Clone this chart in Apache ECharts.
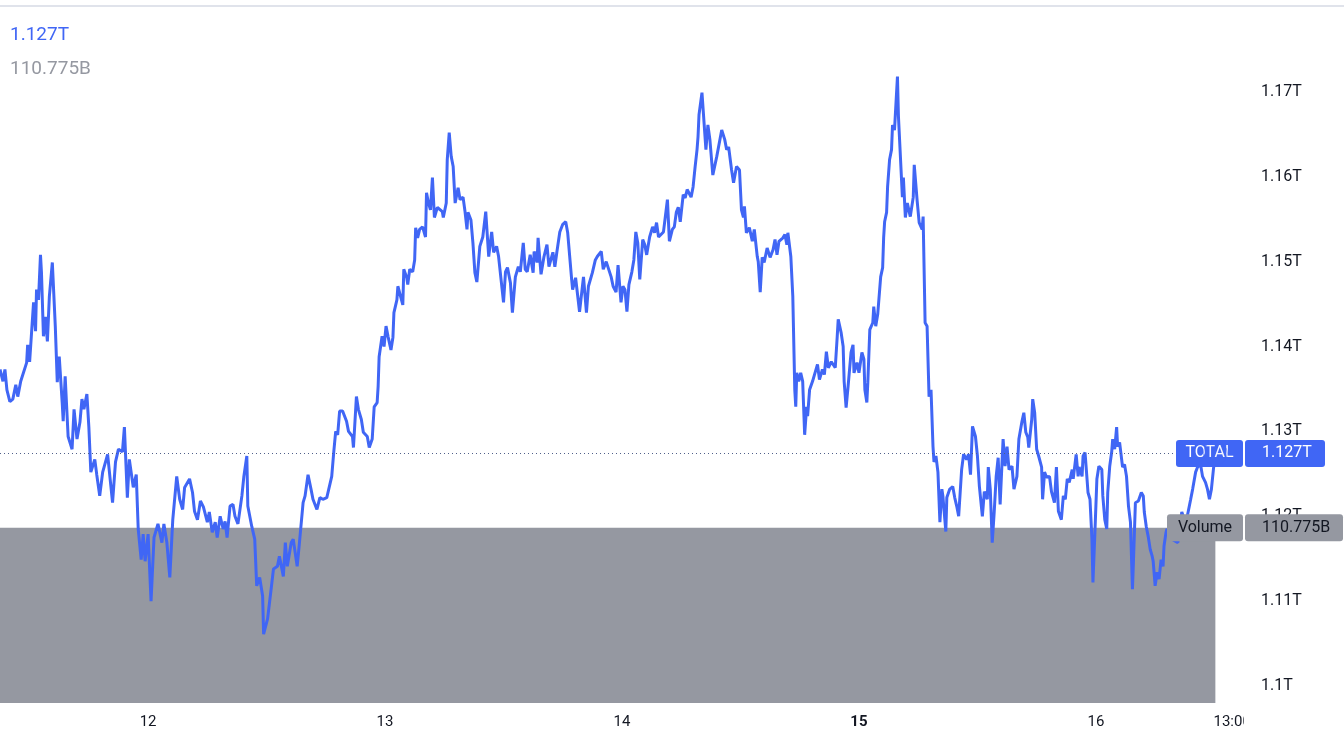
<!DOCTYPE html>
<html><head><meta charset="utf-8">
<script src="https://cdn.jsdelivr.net/npm/echarts@6/dist/echarts.min.js"></script>
<style>html,body{margin:0;padding:0;background:#fff;overflow:hidden}#c{width:1344px;height:739px}</style>
</head><body><div id="c"></div>
<script>
// Time in hours from day 12 00:00; values in billions (TOTAL market cap)
const times = [-15.0,-14.7,-14.5,-14.3,-14.0,-13.7,-13.4,-13.2,-12.9,-12.7,-12.3,-12.2,-12.0,-11.6,-11.4,-11.3,-11.1,-10.9,-10.8,-10.6,-10.4,-10.2,-10.0,-9.7,-9.4,-9.2,-9.0,-8.7,-8.6,-8.4,-8.1,-7.7,-7.5,-7.2,-6.9,-6.7,-6.5,-6.2,-6.0,-5.8,-5.4,-5.2,-4.9,-4.6,-4.1,-3.6,-3.3,-3.0,-2.6,-2.4,-2.1,-1.9,-1.5,-1.2,-1.0,-0.7,-0.5,-0.3,0.0,0.3,0.6,1.0,1.4,1.6,1.9,2.2,2.5,2.9,3.2,3.5,3.7,4.2,4.5,4.7,5.0,5.3,5.6,6.0,6.2,6.5,6.8,7.0,7.3,7.6,7.8,8.0,8.3,8.6,8.8,9.1,9.5,9.7,10.0,10.1,
10.5,10.8,11.0,11.3,11.6,11.7,12.1,12.5,12.7,13.1,13.3,13.7,13.9,14.1,14.5,14.7,15.1,15.3,15.7,15.9,16.2,16.5,16.7,17.1,17.4,17.7,18.1,18.3,18.6,18.8,19.0,19.2,19.4,19.7,20.1,20.3,20.7,20.8,21.1,21.3,21.6,21.8,22.2,22.4,22.7,22.9,23.2,23.3,23.4,23.7,23.9,24.1,24.3,24.6,24.8,24.9,25.2,25.3,25.5,25.8,25.9,26.2,26.3,26.5,26.8,27.0,27.1,27.3,27.5,27.8,28.1,28.2,28.4,28.6,28.8,29.0,29.3,29.5,29.8,29.9,30.2,30.3,30.5,30.7,30.9,31.1,31.4,31.6,31.9,32.1,32.3,32.4,32.7,32.9,33.1,33.3,33.6,33.9,34.2,
34.3,34.5,34.8,35.0,35.3,35.5,36.0,36.2,36.4,36.7,36.9,37.2,37.5,37.7,38.0,38.2,38.4,38.7,39.0,39.1,39.4,39.5,39.8,40.1,40.4,40.6,41.0,41.2,41.4,41.7,42.0,42.3,42.5,42.9,43.0,43.3,43.5,43.7,44.1,44.4,44.6,45.0,45.3,45.5,45.9,46.1,46.4,46.6,46.9,47.1,47.4,47.6,47.9,48.1,48.3,48.5,48.7,49.0,49.2,49.4,49.6,49.8,50.1,50.3,50.5,50.8,51.1,51.3,51.5,51.7,52.2,52.4,52.6,52.8,53.1,53.3,53.5,53.7,53.9,54.2,54.4,54.6,55.0,55.2,55.4,55.6,55.7,55.8,56.1,56.3,56.5,56.7,56.9,57.2,57.6,57.8,58.1,58.4,58.6,
58.8,59.1,59.3,59.6,59.9,60.1,60.3,60.4,60.6,60.9,61.2,61.4,61.7,61.8,62.0,62.2,62.4,62.7,63.0,63.3,63.5,63.7,63.9,64.3,64.5,64.7,64.8,65.1,65.3,65.5,65.6,65.7,65.9,66.1,66.3,66.5,66.7,66.8,67.0,67.3,67.8,68.0,68.3,68.5,68.7,68.9,69.2,69.4,69.6,69.8,69.9,70.2,70.4,70.5,70.7,70.9,71.2,71.4,71.5,71.8,72.0,72.3,72.5,72.6,72.8,72.9,73.1,73.4,73.5,73.7,73.9,74.2,74.4,74.5,74.6,74.8,74.9,75.1,75.3,75.4,75.6,75.9,76.0,76.2,76.4,76.5,76.7,76.9,77.2,77.5,77.6,77.9,78.1,78.4,78.5,78.7,78.9,79.1,79.3,79.5,
79.6,79.8,80.0,80.2,80.4,80.5,80.8,80.9,81.2,81.5,81.7,81.9,82.1,82.4,82.6,82.9,83.1,83.3,83.5,83.8,84.0,84.2,84.5,84.7,85.0,85.1,85.3,85.5,85.7,85.9,86.1,86.3,86.6,86.8,87.0,87.2,87.5,87.7,88.0,88.2,88.5,88.7,88.9,89.1,89.2,89.5,89.6,89.8,90.0,90.2,90.5,90.6,90.8,91.0,91.3,91.5,91.8,92.0,92.2,92.5,92.7,92.9,93.1,93.3,93.6,93.7,94.0,94.2,94.3,94.6,94.7,94.9,95.1,95.2,95.4,95.6,95.7,95.9,96.1,96.3,96.6,96.7,96.9,97.1,97.2,97.4,97.6,97.7,97.9,98.1,98.2,98.4,98.7,98.9,99.1,99.3,99.5,99.7,99.8,100.0,100.3,100.6,100.8,100.9,101.1,101.3,101.5,101.7,101.8,102.0,102.2,102.4,102.6,102.8,102.9,103.1,103.2,103.7,104.3,104.7,105.1,105.6,105.8,106.1,106.3,106.6,106.8,107.1,107.3,107.5,107.7,107.9,108.1];
const totals = [1137.3,1135.9,1137.3,1134.9,1133.5,1133.8,1135.5,1134.1,1135.9,1136.1,1138.1,1140.2,1138.2,1145.2,1141.8,1146.7,1145.5,1150.8,1148.7,1141.2,1143.5,1140.6,1145.9,1149.9,1142.4,1135.8,1138.8,1133.4,1131.2,1136.5,1129.4,1127.9,1132.6,1129.1,1131.1,1133.8,1132.6,1134.4,1130.5,1125.2,1126.7,1124.9,1122.4,1125.2,1127.3,1121.6,1126.4,1127.9,1127.6,1130.5,1122.2,1126.7,1123.4,1124.9,1118.5,1114.9,1117.9,1114.7,1117.9,1110.0,1117.5,1119.1,1116.9,1119.1,1116.9,1112.8,1119.6,1124.7,1122.0,1120.8,1123.4,1124.4,1122.8,1120.6,1119.6,1121.8,1121.1,1119.3,1120.5,1118.1,1119.3,1117.5,1120.0,1118.5,1119.4,1117.5,1121.2,1121.4,1120.0,1119.1,1122.4,1124.7,1127.1,1121.2,
1118.8,1117.3,1111.8,1112.8,1110.6,1106.1,1107.9,1111.8,1113.8,1114.1,1115.3,1112.9,1116.9,1114.1,1116.9,1117.3,1114.1,1116.5,1121.6,1122.4,1124.9,1123.2,1122.0,1120.8,1122.2,1122.0,1122.2,1123.2,1124.7,1127.5,1130.0,1129.6,1132.4,1132.4,1131.2,1130.0,1129.4,1128.1,1134.1,1132.6,1131.4,1129.9,1129.4,1128.1,1129.1,1132.9,1133.4,1135.3,1138.8,1141.2,1140.0,1142.4,1141.2,1139.6,1141.1,1144.0,1145.5,1147.1,1147.3,1144.9,1149.1,1148.1,1147.3,1149.1,1148.8,1150.2,1154.0,1152.8,1153.8,1154.1,1152.9,1158.1,1156.9,1156.1,1159.9,1155.2,1156.4,1156.5,1155.9,1155.2,1156.9,1162.0,1165.2,1162.4,1161.2,1156.9,1158.7,1157.3,1157.6,1155.9,1153.8,1155.8,1154.9,1152.2,1148.7,1147.6,1151.8,1152.9,1155.9,
1154.1,1150.6,1153.5,1151.1,1151.8,1150.6,1145.2,1148.8,1149.3,1147.5,1144.0,1148.2,1149.4,1148.8,1152.2,1149.1,1148.8,1150.8,1148.7,1151.2,1149.9,1152.8,1148.5,1150.6,1152.0,1149.4,1151.1,1149.4,1151.1,1153.5,1154.4,1154.7,1153.4,1147.9,1146.7,1148.1,1147.9,1144.1,1148.2,1144.0,1147.1,1148.7,1150.2,1150.6,1151.2,1149.1,1150.0,1150.0,1148.2,1147.1,1146.4,1149.6,1145.2,1147.1,1146.7,1144.1,1147.3,1148.8,1150.2,1153.5,1152.2,1147.9,1152.6,1152.0,1150.8,1152.9,1154.1,1153.4,1154.6,1152.9,1153.5,1153.5,1157.3,1152.4,1153.8,1154.1,1155.8,1156.4,1154.7,1157.9,1157.5,1158.5,1157.6,1158.8,1161.1,1163.2,1164.7,1167.3,1169.9,1169.9,1163.2,1166.1,1164.4,1160.2,1162.4,1162.6,1165.5,1164.4,1163.2,
1163.5,1160.8,1159.3,1161.2,1160.8,1156.1,1155.2,1156.5,1153.4,1154.0,1152.4,1153.8,1150.6,1150.0,1146.4,1150.5,1149.9,1151.6,1150.5,1151.4,1152.6,1150.8,1152.4,1152.8,1153.2,1152.0,1153.4,1150.6,1145.9,1134.9,1132.9,1136.9,1135.9,1136.9,1135.9,1129.6,1132.9,1131.8,1134.9,1135.9,1137.9,1136.1,1137.3,1136.7,1139.4,1137.5,1138.2,1138.1,1137.5,1141.2,1143.2,1141.6,1140.0,1135.9,1132.8,1135.3,1139.3,1140.2,1136.9,1138.1,1136.9,1139.3,1138.5,1134.9,1133.4,1135.8,1142.0,1142.8,1144.7,1142.4,1143.8,1148.2,1149.3,1152.8,1154.7,1155.8,1158.8,1162.0,1163.2,1166.1,1165.5,1171.8,1167.1,1167.1,1157.6,1159.9,1155.2,1156.9,1155.3,1157.6,1161.4,1157.1,1154.6,1153.8,1155.3,1142.8,1142.4,1134.1,1134.9,1128.2,
1126.4,1127.1,1125.2,1119.3,1123.2,1122.4,1118.2,1122.2,1123.2,1123.5,1122.2,1121.2,1120.0,1125.5,1127.3,1126.7,1127.3,1124.9,1130.6,1129.4,1127.1,1123.5,1120.0,1122.9,1122.0,1125.8,1123.2,1116.9,1120.5,1124.7,1126.9,1121.4,1129.1,1125.9,1128.2,1125.5,1125.9,1123.2,1124.7,1129.1,1131.1,1132.2,1129.9,1129.3,1128.1,1131.4,1133.8,1132.2,1127.9,1127.1,1125.8,1122.0,1125.2,1124.6,1124.7,1122.9,1121.6,1125.8,1120.6,1119.6,1122.4,1122.0,1124.4,1124.0,1125.5,1124.4,1127.3,1124.7,1125.8,1124.7,1127.1,1127.5,1124.4,1122.8,1122.0,1117.3,1112.2,1118.1,1124.4,1125.9,1125.5,1122.4,1119.6,1118.5,1122.8,1125.9,1127.6,1129.1,1127.9,1130.5,1128.2,1128.7,1125.8,1126.1,1124.7,1121.2,1119.3,1111.4,1114.6,1121.6,1121.8,1122.8,1122.4,1120.5,1118.8,1117.6,1116.1,1115.3,1114.7,1111.8,1113.4,1112.6,1114.9,1114.1,1116.5,1118.1,1118.5,1117.3,1116.9,1120.5,1119.1,1122.0,1123.2,1125.2,1125.8,1126.1,1124.7,1124.0,1123.2,1122.0,1123.2,1125.5,1127.4];

// Volume overlay (billions)
const volumeTimes = [-15.0, 108.1];
const volumeValues = [110.775, 110.775];

// X axis tick positions (hours from day 12 00:00) and labels
const xTickValues = [0, 24, 48, 72, 96, 109.8];
const xTickLabels = ['12', '13', '14', '15', '16', '13:00'];
const boldTickLabel = '15';

const seriesName = 'TOTAL';
const volumeName = 'Volume';

const FONT = 'Roboto, "Noto Sans", "Liberation Sans", sans-serif';
const BLUE = '#4066f5';
const GRAY = '#9598a1';
const TEXT = '#131722';

const chart = echarts.init(document.getElementById('c'), null, {renderer: 'canvas'});
const lastT = times[times.length - 1];
const lastV = totals[totals.length - 1];
const lastVol = volumeValues[volumeValues.length - 1];
const fmtT = v => (v / 1000).toFixed(3) + 'T';
const fmtB = v => v.toFixed(3) + 'B';

chart.setOption({
  animation: false,
  backgroundColor: '#ffffff',
  grid: {left: 0, right: 100, top: 7, bottom: 36},
  xAxis: {
    type: 'value', min: -15, max: 111,
    axisLine: {show: false}, axisTick: {show: false}, splitLine: {show: false},
    axisLabel: {
      customValues: xTickValues,
      formatter: v => {
        let i = -1;
        xTickValues.forEach((t, k) => { if (Math.abs(t - v) < 1e-6) i = k; });
        const s = i >= 0 ? xTickLabels[i] : '';
        return s === boldTickLabel ? '{b|' + s + '}' : s;
      },
      color: TEXT, fontSize: 15, fontFamily: FONT, margin: 12,
      rich: {b: {fontWeight: 'bold', fontSize: 15, color: TEXT, fontFamily: FONT}}
    }
  },
  yAxis: [{
    type: 'value', position: 'right', min: 1098, max: 1180, interval: 2,
    axisLine: {show: false}, axisTick: {show: false}, splitLine: {show: false},
    axisLabel: {
      formatter: v => { const r = Math.round(v); return (r % 10 === 0 && r < 1180) ? (r / 1000) + 'T' : ''; },
      color: TEXT, fontSize: 16, fontFamily: FONT, margin: 17
    }
  }, {
    type: 'value', min: 0, max: 440, show: false
  }],
  series: [{
    name: volumeName, type: 'line', yAxisIndex: 1, silent: true,
    data: volumeTimes.map((t, i) => [t, volumeValues[i]]),
    symbol: 'none', lineStyle: {width: 0}, areaStyle: {color: GRAY, opacity: 1, origin: 'start'}, z: 1
  }, {
    name: seriesName, type: 'line',
    data: times.map((t, i) => [t, totals[i]]),
    symbol: 'none', lineStyle: {color: BLUE, width: 3}, z: 3,
    markLine: {
      symbol: 'none', silent: true, label: {show: false},
      lineStyle: {color: '#50608a', type: [1, 3], width: 1},
      data: [{yAxis: lastV}]
    }
  }]
});

const gridRight = chart.convertToPixel({xAxisIndex: 0}, 111);
const lastPt = chart.convertToPixel({gridIndex: 0}, [lastT, lastV]);
const yPrice = lastPt[1];
const yVol = chart.convertToPixel({yAxisIndex: 1}, lastVol);
const H = 27;
const box = (x, y, w, fill, text, color, align) => ({
  type: 'group', z: 50,
  children: [
    {type: 'rect', shape: {x: x, y: y - H / 2, width: w, height: H, r: 3}, style: {fill: fill}, z: 50},
    {type: 'text', z: 51, style: {
      x: align === 'left' ? x + 17 : x + w / 2, y: y, text: text, fill: color,
      font: '16px ' + FONT, textAlign: align || 'center', textVerticalAlign: 'middle'}}
  ]
});

chart.setOption({
  graphic: [
    {type: 'rect', z: 40, shape: {x: 0, y: 5, width: 1344, height: 2}, style: {fill: '#e0e3eb'}},
    {type: 'rect', z: 40, shape: {x: gridRight, y: 706, width: 100, height: 33}, style: {fill: '#ffffff'}},
    {type: 'text', z: 40, style: {x: 10, y: 35, text: fmtT(lastV), fill: BLUE, font: '19px ' + FONT, textVerticalAlign: 'middle'}},
    {type: 'text', z: 40, style: {x: 10, y: 69, text: fmtB(lastVol), fill: GRAY, font: '19px ' + FONT, textVerticalAlign: 'middle'}},
    box(gridRight - 68, yPrice, 67, BLUE, seriesName, '#ffffff'),
    box(gridRight + 1, yPrice, 80, BLUE, fmtT(lastV), '#ffffff', 'left'),
    box(gridRight - 77, yVol, 76, GRAY, volumeName, TEXT),
    box(gridRight + 1, yVol, 98, GRAY, fmtB(lastVol), TEXT, 'left'),
    {type: 'circle', z: 60, silent: true, shape: {cx: lastPt[0], cy: lastPt[1], r: 12},
     style: {fill: 'rgba(64,102,245,0.06)', stroke: 'rgba(64,102,245,0.5)', lineWidth: 1}}
  ]
});
</script>
</body></html>
